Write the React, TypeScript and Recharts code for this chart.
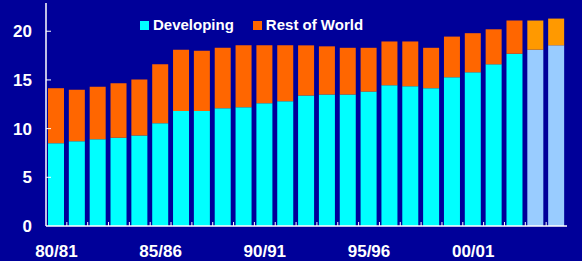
import { BarChart, Bar, XAxis, YAxis, Cell } from "recharts";

const categories = [
  "80/81", "81/82", "82/83", "83/84", "84/85",
  "85/86", "86/87", "87/88", "88/89", "89/90",
  "90/91", "91/92", "92/93", "93/94", "94/95",
  "95/96", "96/97", "97/98", "98/99", "99/00",
  "00/01", "01/02", "02/03", "03/04", "04/05",
];

const developing = [
  8.5, 8.7, 8.9, 9.05, 9.3, 10.55, 11.8, 11.8, 12.1, 12.2, 12.6, 12.8, 13.4,
  13.5, 13.5, 13.8, 14.45, 14.35, 14.15, 15.27, 15.78, 16.6, 17.7, 18.1, 18.55,
];

const restOfWorld = [
  5.65, 5.3, 5.4, 5.6, 5.75, 6.05, 6.3, 6.2, 6.2, 6.35, 5.95, 5.75, 5.15,
  4.95, 4.8, 4.5, 4.5, 4.6, 4.15, 4.18, 4.02, 3.6, 3.4, 3.0, 2.75,
];

const yTicks = [0, 5, 10, 15, 20];
const labelEvery = 5;
const firstProjected = 23;

const BG = "#000099";
const FONT = "'Liberation Sans', Arial, sans-serif";

const data = categories.map((c, i) => ({
  period: c,
  developing: developing[i],
  rest: restOfWorld[i],
}));

function XTick(props: any) {
  const { x, y, payload, index } = props;
  const half = typeof payload?.offset === "number" ? payload.offset : 10.42;
  const i = payload?.index ?? index;
  return (
    <g>
      {i > 0 && (
        <line x1={x - half} x2={x - half} y1={y} y2={y - 4} stroke="#ffffff" strokeWidth={1} />
      )}
      {i % labelEvery === 0 && (
        <text
          x={x}
          y={y + 31}
          textAnchor="middle"
          fill="#ffffff"
          fontSize={17}
          fontWeight="bold"
          fontFamily={FONT}
        >
          {payload.value}
        </text>
      )}
    </g>
  );
}

function YTick(props: any) {
  const { x, y, payload } = props;
  return (
    <g>
      {payload.value > 0 && (
        <line x1={x} x2={x + 5} y1={y} y2={y} stroke="#ffffff" strokeWidth={1} />
      )}
      <text
        x={x - 14}
        y={y + 6}
        textAnchor="end"
        fill="#ffffff"
        fontSize={17}
        fontWeight="bold"
        fontFamily={FONT}
      >
        {payload.value}
      </text>
    </g>
  );
}

function LegendItem({ color, label }: { color: string; label: string }) {
  return (
    <div style={{ display: "flex", alignItems: "center", marginRight: 19 }}>
      <div style={{ width: 9, height: 9, background: color, marginRight: 4 }} />
      <span>{label}</span>
    </div>
  );
}

export default function App() {
  return (
    <div
      style={{
        position: "absolute",
        left: 0,
        top: 0,
        width: 582,
        height: 261,
        background: BG,
        overflow: "hidden",
      }}
    >
      <BarChart
        width={582}
        height={261}
        data={data}
        margin={{ top: 3, right: 15, left: 0, bottom: 0 }}
        barSize={16}
      >
        <XAxis
          dataKey="period"
          interval={0}
          height={35}
          tickSize={0}
          tickMargin={0}
          tick={<XTick />}
          axisLine={{ stroke: "#ffffff", strokeWidth: 1.5 }}
          tickLine={false}
        />
        <XAxis
          xAxisId="top"
          orientation="top"
          dataKey="period"
          height={0}
          tick={false}
          tickLine={false}
          axisLine={{ stroke: "#9a9ad0", strokeWidth: 1.5 }}
        />
        <YAxis
          domain={[0, 22.9]}
          ticks={yTicks}
          width={46}
          tickSize={0}
          tickMargin={0}
          tick={<YTick />}
          axisLine={{ stroke: "#ffffff", strokeWidth: 1.5 }}
          tickLine={false}
          allowDataOverflow
        />
        <YAxis
          yAxisId="right"
          orientation="right"
          domain={[0, 22.9]}
          width={0}
          tick={false}
          tickLine={false}
          axisLine={{ stroke: "#9a9ad0", strokeWidth: 1.5 }}
        />
        <Bar dataKey="developing" stackId="a" name="Developing" isAnimationActive={false}>
          {data.map((_, i) => (
            <Cell key={i} fill={i >= firstProjected ? "#99ccff" : "#00ffff"} />
          ))}
        </Bar>
        <Bar dataKey="rest" stackId="a" name="Rest of World" isAnimationActive={false}>
          {data.map((_, i) => (
            <Cell key={i} fill={i >= firstProjected ? "#ff9900" : "#ff6600"} />
          ))}
        </Bar>
      </BarChart>
      <div
        style={{
          position: "absolute",
          left: 140,
          top: 16,
          display: "flex",
          color: "#ffffff",
          fontFamily: FONT,
          fontWeight: "bold",
          fontSize: 15,
          lineHeight: "18px",
        }}
      >
        <LegendItem color="#00ffff" label="Developing" />
        <LegendItem color="#ff6600" label="Rest of World" />
      </div>
    </div>
  );
}
